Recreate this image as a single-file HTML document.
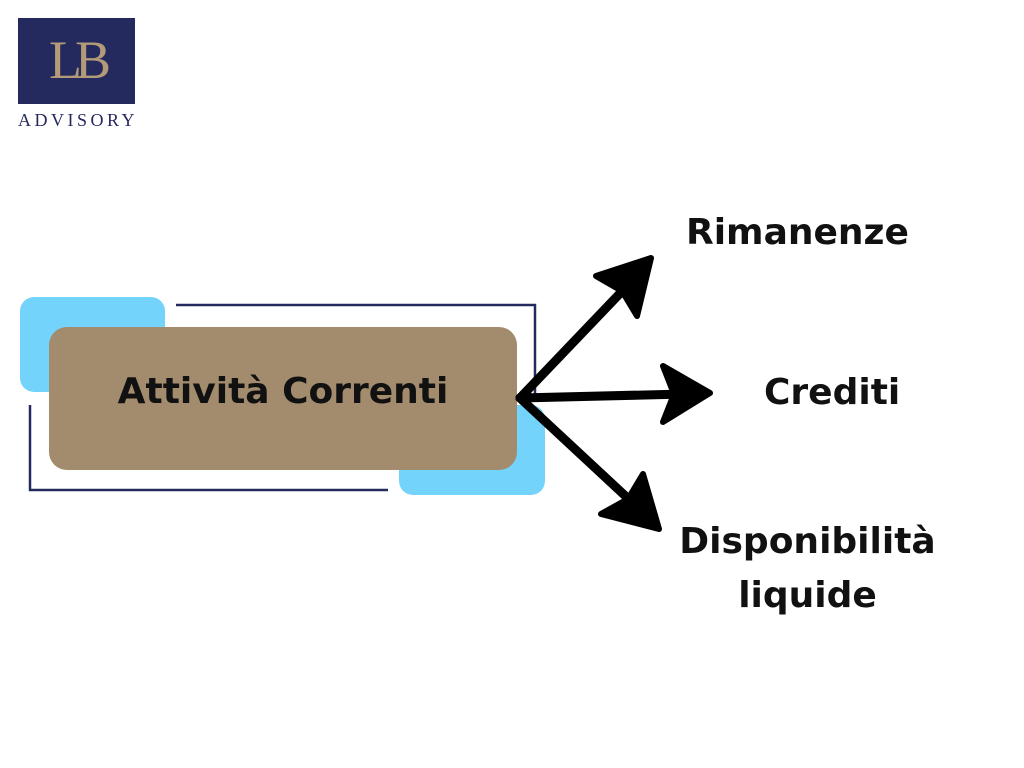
<!DOCTYPE html>
<html><head><style>
body{margin:0;width:1024px;height:768px;background:#fff;position:relative;overflow:hidden;font-family:"Liberation Sans","DejaVu Sans",sans-serif}
.a{position:absolute}
.t{position:absolute;font-weight:bold;color:#111;font-family:"DejaVu Sans","Liberation Sans",sans-serif}
</style></head><body>
<div class="a" style="left:18px;top:18px;width:117px;height:86px;background:#252a5e"></div>
<div class="a" style="left:18px;top:30px;width:117px;text-align:center;font-family:'Liberation Serif',serif;font-size:54px;line-height:60px;color:#b39a78;letter-spacing:-7px">LB</div>
<div class="a" style="left:16px;top:110px;width:124px;text-align:center;font-family:'Liberation Serif',serif;font-size:18px;color:#252a5e;letter-spacing:3.5px">ADVISORY</div>
<div class="a" style="left:20px;top:297px;width:145px;height:95px;background:#73d3fb;border-radius:14px"></div>
<div class="a" style="left:399px;top:405px;width:146px;height:90px;background:#73d3fb;border-radius:14px"></div>
<svg class="a" style="left:0;top:0" width="1024" height="768">
<polyline points="176,305 535,305 535,400" fill="none" stroke="#252a5e" stroke-width="2.5"/>
<polyline points="30,405 30,490 388,490" fill="none" stroke="#252a5e" stroke-width="2.5"/>
</svg>
<div class="a" style="left:49px;top:327px;width:468px;height:143px;background:#a38b6d;border-radius:18px"></div>
<div class="t" style="left:49px;top:371px;width:468px;text-align:center;font-size:36px">Attività Correnti</div>
<svg class="a" style="left:0;top:0" width="1024" height="768">
<g stroke="#000" stroke-width="9" stroke-linecap="round" fill="none">
<line x1="520" y1="398" x2="628" y2="285"/>
<line x1="520" y1="398" x2="685" y2="394"/>
<line x1="520" y1="398" x2="634" y2="504"/>
</g>
<g fill="#000" stroke="#000" stroke-width="6" stroke-linejoin="round">
<polygon points="651,258 596,276 622,291 637,316"/>
<polygon points="710,393 663,366 674,394 663,422"/>
<polygon points="659,529 643,474 628,499 601,514"/>
</g>
</svg>
<div class="t" style="left:686px;top:212px;font-size:36px">Rimanenze</div>
<div class="t" style="left:764px;top:372px;font-size:36px">Crediti</div>
<div class="t" style="left:670px;top:515px;width:275px;text-align:center;font-size:36px;line-height:54px">Disponibilità<br>liquide</div>
</body></html>
